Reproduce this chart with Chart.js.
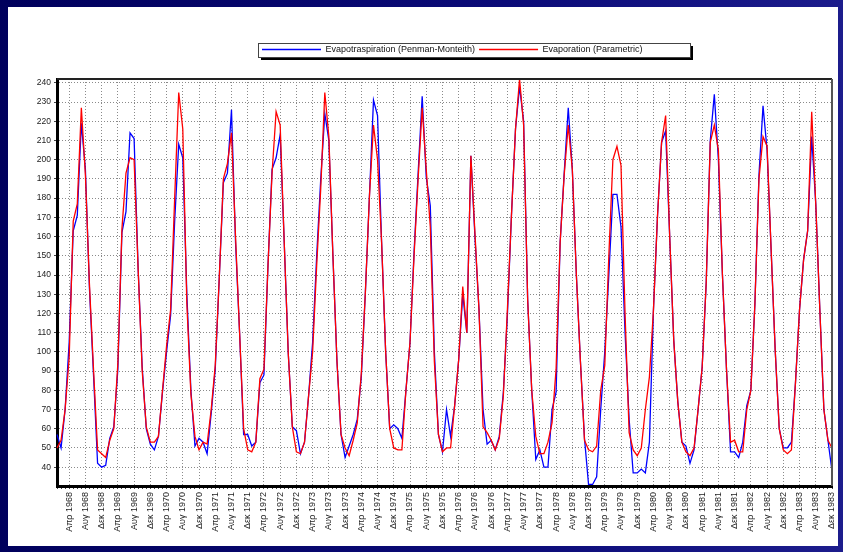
<!DOCTYPE html>
<html>
<head>
<meta charset="utf-8">
<script src="https://cdn.jsdelivr.net/npm/chart.js@4.4.1/dist/chart.umd.min.js"></script>
<style>
  html, body { margin: 0; padding: 0; }
  body { width: 843px; height: 552px; overflow: hidden; position: relative;
         background: linear-gradient(90deg, #00005c 0%, #0b0b78 60%, #1c1c8c 100%); }
  #panel { position: absolute; left: 8px; top: 7px; width: 830px; height: 539px; background: #fff; }
  canvas { display: block; }
</style>
</head>
<body>
<div id="panel"><canvas id="chart" width="830" height="539"></canvas></div>
<script>
// monthly values, Jan 1968 .. Dec 1983 (mm)
const years = [1968, 1969, 1970, 1971, 1972, 1973, 1974, 1975, 1976, 1977, 1978, 1979, 1980, 1981, 1982, 1983];
const monthNames = ['Ιαν', 'Φεβ', 'Μαρ', 'Απρ', 'Μαϊ', 'Ιουν', 'Ιουλ', 'Αυγ', 'Σεπ', 'Οκτ', 'Νοε', 'Δεκ'];

const penmanMonteith = [
  57, 50, 70, 105, 163, 171, 219, 195, 133, 88, 42, 40,
  41, 55, 61, 91, 162, 173, 214, 211, 143, 92, 60, 52,
  49, 56, 79, 100, 119, 168, 208, 201, 130, 80, 51, 55,
  53, 47, 68, 91, 139, 188, 193, 226, 157, 110, 57, 57,
  51, 53, 84, 88, 145, 195, 201, 213, 157, 99, 61, 59,
  47, 53, 77, 105, 150, 190, 224, 210, 150, 95, 57, 45,
  51, 57, 65, 87, 131, 181, 231, 223, 157, 100, 60, 62,
  60, 55, 80, 105, 152, 193, 233, 191, 176, 100, 57, 48,
  70, 56, 72, 96, 130, 110, 202, 160, 122, 70, 52, 54,
  49, 56, 79, 119, 171, 216, 238, 220, 127, 80, 44, 49,
  40, 40, 70, 79, 157, 193, 227, 195, 140, 95, 55, 31,
  31, 35, 70, 100, 140, 182, 182, 165, 110, 65, 37, 37,
  39, 37, 53, 122, 171, 209, 215, 160, 106, 74, 53, 51,
  42, 49, 70, 92, 136, 210, 234, 200, 140, 91, 48, 48,
  45, 53, 72, 80, 125, 192, 228, 205, 153, 101, 60, 50,
  50, 53, 84, 122, 148, 163, 212, 177, 122, 70, 54, 38
];

const parametric = [
  50, 54, 70, 97, 168, 177, 227, 192, 135, 91, 49, 47,
  45, 54, 60, 94, 164, 193, 201, 200, 143, 90, 61, 53,
  53, 56, 80, 103, 122, 180, 235, 216, 125, 78, 56, 49,
  53, 52, 70, 93, 139, 190, 198, 214, 160, 110, 60, 49,
  48, 53, 86, 91, 145, 193, 225, 218, 157, 99, 61, 48,
  47, 53, 77, 100, 145, 185, 235, 212, 150, 95, 57, 50,
  46, 54, 63, 89, 131, 181, 218, 200, 157, 100, 60, 50,
  49, 49, 80, 105, 150, 190, 227, 195, 165, 95, 57, 48,
  50, 50, 72, 96, 134, 110, 202, 162, 122, 61, 58, 54,
  49, 55, 77, 122, 171, 216, 242, 218, 127, 80, 56, 47,
  47, 53, 63, 91, 157, 192, 218, 195, 140, 95, 54, 49,
  48, 51, 80, 93, 150, 200, 207, 197, 120, 58, 49, 46,
  50, 70, 87, 122, 171, 209, 223, 160, 106, 74, 53, 48,
  46, 50, 70, 92, 136, 209, 218, 205, 140, 91, 53, 54,
  48, 48, 70, 80, 125, 190, 212, 207, 153, 101, 60, 49,
  47, 49, 84, 122, 148, 163, 225, 177, 122, 70, 54, 50
];

const labels = [];
years.forEach(function (y) {
  monthNames.forEach(function (m) { labels.push(m + ' ' + y); });
});

const fontFamily = "'Liberation Sans', Arial, sans-serif";
const gridGrey = '#8a8a8a';

// legend box with drop shadow + top/right frame of the plot
const frame = {
  id: 'frame',
  beforeInit(chart) {
    const fit = chart.legend.fit;
    chart.legend.fit = function () {
      fit.call(this);
      this.height = 38;
    };
  },
  afterLayout(chart) {
    const lg = chart.legend;
    const shift = 250 - lg.left;
    lg.left += shift;
    lg.right += shift;
  },
  beforeDraw(chart) {
    const ctx = chart.ctx;
    const lg = chart.legend;
    const x = lg.left, y = lg.top + 2, w = 432, h = 14;
    ctx.save();
    ctx.fillStyle = '#000';
    ctx.fillRect(x + 3, y + 3, w, h);
    ctx.fillStyle = '#fff';
    ctx.fillRect(x, y, w, h);
    ctx.strokeStyle = '#444';
    ctx.lineWidth = 1;
    ctx.strokeRect(x + 0.5, y + 0.5, w, h);
    ctx.restore();
  },
  afterDraw(chart) {
    const ctx = chart.ctx;
    const a = chart.chartArea;
    ctx.save();
    ctx.lineWidth = 2;
    ctx.strokeStyle = '#222';
    ctx.beginPath();
    ctx.moveTo(a.left, a.top);
    ctx.lineTo(a.right, a.top);
    ctx.stroke();
    ctx.strokeStyle = '#555';
    ctx.beginPath();
    ctx.moveTo(a.right, a.top);
    ctx.lineTo(a.right, a.bottom);
    ctx.stroke();
    ctx.restore();
  }
};

new Chart(document.getElementById('chart'), {
  type: 'line',
  data: {
    labels: labels,
    datasets: [
      {
        label: 'Evapotraspiration (Penman-Monteith)',
        data: penmanMonteith,
        borderColor: '#0000ff',
        backgroundColor: '#0000ff',
        borderWidth: 1.3,
        pointRadius: 0,
        tension: 0,
        order: 1
      },
      {
        label: 'Evaporation (Parametric)',
        data: parametric,
        borderColor: '#ff0000',
        backgroundColor: '#ff0000',
        borderWidth: 1.3,
        pointRadius: 0,
        tension: 0,
        order: 0
      }
    ]
  },
  options: {
    responsive: false,
    animation: false,
    devicePixelRatio: 1,
    layout: { padding: { top: 34, right: 6, left: 0, bottom: 0 } },
    plugins: {
      tooltip: { enabled: false },
      legend: {
        position: 'top',
        align: 'start',
        labels: {
          usePointStyle: true,
          pointStyle: 'line',
          pointStyleWidth: 59,
          boxHeight: 10,
          padding: 4,
          color: '#111',
          font: { family: fontFamily, size: 9 },
          sort: (a, b) => a.datasetIndex - b.datasetIndex
        }
      }
    },
    scales: {
      x: {
        type: 'category',
        offset: false,
        grid: {
          offset: false,
          color: ctx => (ctx.index % 4 === 3 ? gridGrey : 'rgba(0,0,0,0)'),
          tickColor: '#444',
          tickLength: 3,
          lineWidth: 1
        },
        border: { display: true, color: '#000', width: 3, dash: [1, 2] },
        ticks: {
          autoSkip: false,
          minRotation: 90,
          maxRotation: 90,
          padding: 3,
          color: '#222',
          font: { family: fontFamily, size: 9 },
          callback: function (v, i) { return i % 4 === 3 ? this.getLabelForValue(v) : ''; }
        },
        afterFit: s => { s.height = 60; s.paddingLeft = 0; s.paddingRight = 0; }
      },
      y: {
        min: 30.2,
        max: 242,
        grid: { color: gridGrey, tickColor: '#444', tickLength: 3 },
        border: { display: true, color: '#000', width: 3, dash: [1, 2] },
        ticks: {
          stepSize: 10,
          includeBounds: false,
          padding: 3,
          color: '#222',
          font: { family: fontFamily, size: 8.5 }
        },
        afterFit: s => { s.width = 49; }
      }
    }
  },
  plugins: [frame]
});
</script>
</body>
</html>
